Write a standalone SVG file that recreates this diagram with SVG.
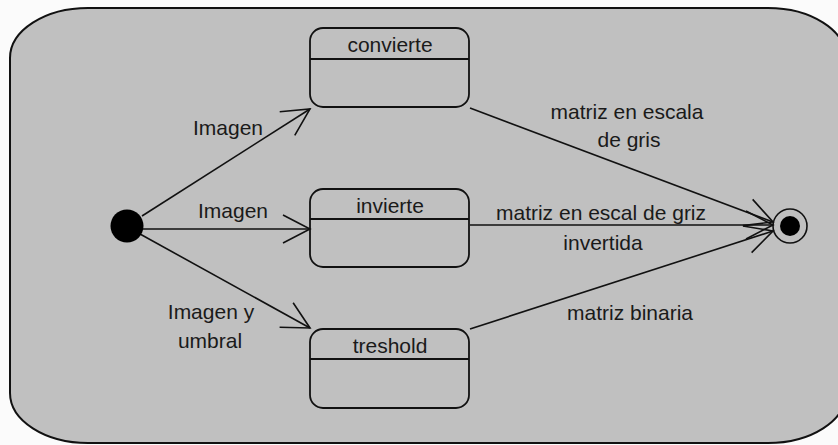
<svg xmlns="http://www.w3.org/2000/svg" width="838" height="445" viewBox="0 0 838 445">
<style>
.bg{fill:#c0c0c0;stroke:#111;stroke-width:2}
.st{fill:none;stroke:#111;stroke-width:1.8}
.ln{fill:none;stroke:#111;stroke-width:1.6}
text{font-family:"Liberation Sans",Arial,sans-serif;font-size:21px;fill:#1a1a1a}
.c{text-anchor:middle}
</style>
<defs>
<marker id="arr" markerUnits="userSpaceOnUse" markerWidth="34" markerHeight="34" viewBox="-30 -17 34 34" refX="0" refY="0" orient="auto" overflow="visible">
<path d="M -27,-14 L 0,0 L -27,14" fill="none" stroke="#111" stroke-width="1.6"/>
</marker>
</defs>
<rect width="838" height="445" fill="#fbfbfb"/>
<path class="bg" d="M 88,8 H 768 A 78,50 0 0 1 846,58 V 393 A 78,50 0 0 1 768,443 H 88 A 78,50 0 0 1 10,393 V 58 A 78,50 0 0 1 88,8 Z"/>
<g id="connectors">
<line class="ln" x1="142" y1="216" x2="310" y2="109" marker-end="url(#arr)"/>
<line class="ln" x1="143" y1="229" x2="310" y2="229" marker-end="url(#arr)"/>
<line class="ln" x1="140" y1="234" x2="310" y2="328" marker-end="url(#arr)"/>
<line class="ln" x1="470" y1="108" x2="773" y2="222" marker-end="url(#arr)"/>
<line class="ln" x1="470" y1="225" x2="773" y2="225" marker-end="url(#arr)"/>
<line class="ln" x1="470" y1="329" x2="773" y2="231" marker-end="url(#arr)"/>
<text x="228" y="135" class="c">Imagen</text>
<text x="233" y="218" class="c">Imagen</text>
<text x="211" y="319" class="c">Imagen y</text>
<text x="210" y="348" class="c">umbral</text>
<text x="627" y="119" class="c">matriz en escala</text>
<text x="629" y="147" class="c">de gris</text>
<text x="601" y="220" class="c">matriz en escal de griz</text>
<text x="603" y="250" class="c">invertida</text>
<text x="630" y="320" class="c">matriz binaria</text>
</g>
<g id="initial">
<circle cx="127" cy="226" r="16.5" fill="#000"/>
</g>
<g id="final">
<circle cx="790" cy="226" r="17" fill="none" stroke="#111" stroke-width="1.6"/>
<circle cx="790" cy="226" r="10" fill="#000"/>
</g>
<g id="convierte">
<rect class="st" x="310" y="28" width="159" height="79" rx="13" ry="13"/>
<line class="st" x1="310" y1="59" x2="469" y2="59"/>
<text x="390" y="52" class="c">convierte</text>
</g>
<g id="invierte">
<rect class="st" x="310" y="189" width="159" height="78" rx="13" ry="13"/>
<line class="st" x1="310" y1="219" x2="469" y2="219"/>
<text x="390" y="213" class="c">invierte</text>
</g>
<g id="treshold">
<rect class="st" x="310" y="329" width="159" height="79" rx="13" ry="13"/>
<line class="st" x1="310" y1="359" x2="469" y2="359"/>
<text x="390" y="353" class="c">treshold</text>
</g>
</svg>
